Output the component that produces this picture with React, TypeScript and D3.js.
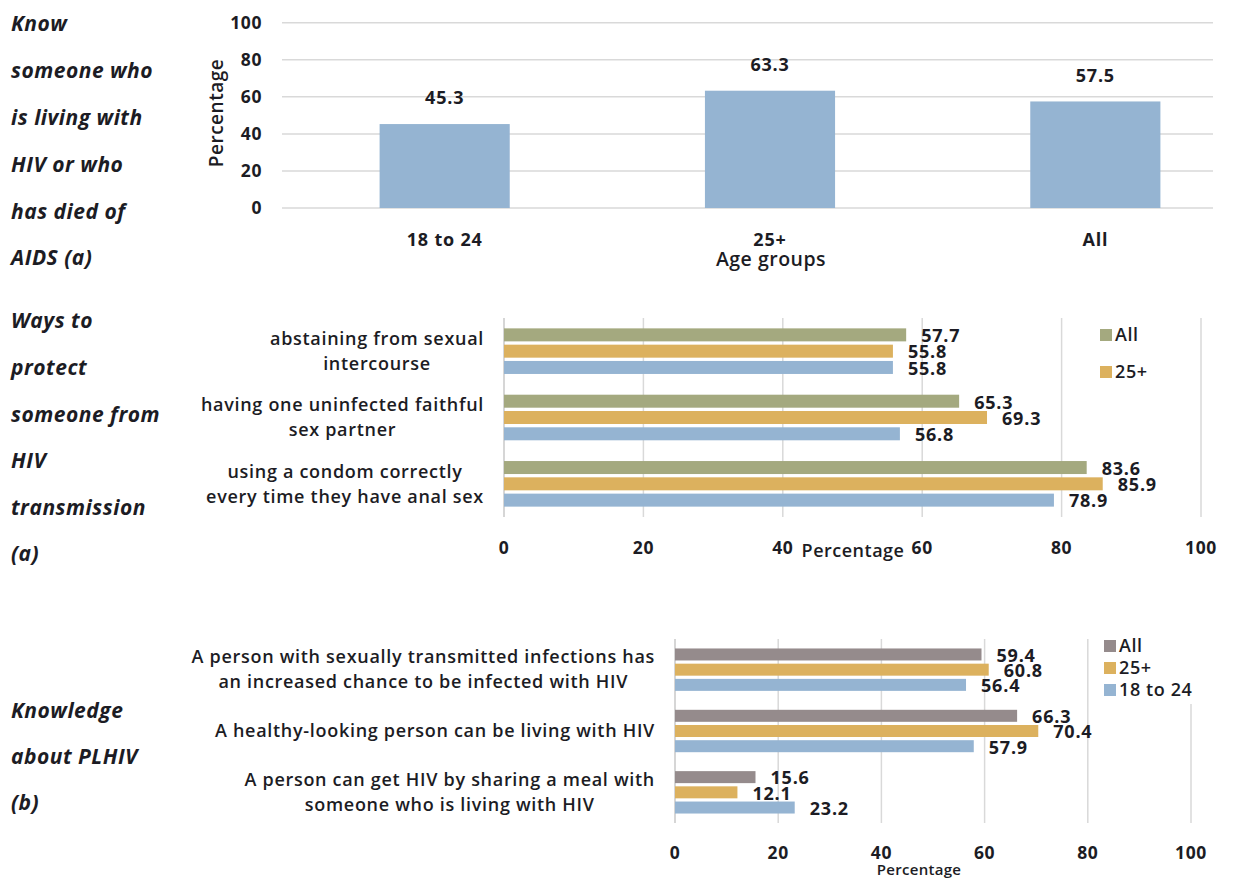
import React, { useEffect, useRef } from "react";
import * as d3 from "d3";

// ---------- DATA ----------
const AGE_GROUPS = ["18 to 24", "25+", "All"];
const KNOW_VALUES = [45.3, 63.3, 57.5];
const PCT_TICKS = [0, 20, 40, 60, 80, 100];

const SERIES = ["All", "25+", "18 to 24"];

const PROTECT_CATEGORIES = [
  ["abstaining from sexual", "intercourse"],
  ["having one uninfected faithful", "sex partner"],
  ["using a condom correctly", "every time they have anal sex"],
];
const PROTECT_ALL = [57.7, 65.3, 83.6];
const PROTECT_25 = [55.8, 69.3, 85.9];
const PROTECT_1824 = [55.8, 56.8, 78.9];
const PROTECT_LEGEND = ["All", "25+"];

const PLHIV_CATEGORIES = [
  ["A person with sexually transmitted infections has", "an increased chance to be infected with HIV"],
  ["A healthy-looking person can be living with HIV"],
  ["A person can get HIV by sharing a meal with", "someone who is living with HIV"],
];
const PLHIV_ALL = [59.4, 66.3, 15.6];
const PLHIV_25 = [60.8, 70.4, 12.1];
const PLHIV_1824 = [56.4, 57.9, 23.2];
const PLHIV_LEGEND = ["All", "25+", "18 to 24"];

const SECTION_KNOW = ["Know", "someone who", "is living with", "HIV or who", "has died of", "AIDS (a)"];
const SECTION_PROTECT = ["Ways to", "protect", "someone from", "HIV", "transmission", "(a)"];
const SECTION_PLHIV = ["Knowledge", "about PLHIV", "(b)"];

// ---------- STYLE ----------
const FONT = "'Open Sans', Lato, sans-serif";
const TEXT = "#1c1c24";
const GRID = "#d9d9d9";
const BLUE = "#95b4d2";
const ORANGE = "#dcb15e";
const GREEN = "#a4a97f";
const GRAY = "#958b8c";

export default function App() {
  const ref = useRef<SVGSVGElement | null>(null);

  useEffect(() => {
    const svg = d3.select(ref.current);
    svg.selectAll("*").remove();

    const style = (sel: any, size: number, weight: number, spacing: number) =>
      sel
        .attr("font-family", FONT)
        .attr("font-size", size)
        .attr("font-weight", weight)
        .attr("letter-spacing", spacing)
        .attr("fill", TEXT);

    // ---------- section labels ----------
    const sections: [string[], number, number][] = [
      [SECTION_KNOW, 24, 46.8],
      [SECTION_PROTECT, 321, 46.6],
      [SECTION_PLHIV, 711, 46],
    ];
    sections.forEach(([lines, y0, step]) => {
      const t = svg
        .append("g")
        .selectAll("text")
        .data(lines)
        .join("text")
        .attr("x", 11)
        .attr("y", (_, i) => y0 + i * step)
        .attr("dy", "0.35em")
        .attr("font-style", "italic")
        .text((d) => d);
      style(t, 21, 700, 0.5);
    });

    // ---------- top vertical bar chart ----------
    const top = svg.append("g");
    const y = d3.scaleLinear().domain([0, 100]).range([208, 22.7]);
    const x = d3
      .scaleBand<string>()
      .domain(AGE_GROUPS)
      .range([282, 1258])
      .paddingInner(0.6)
      .paddingOuter(0.3);

    top
      .selectAll("line.grid")
      .data(PCT_TICKS)
      .join("line")
      .attr("x1", 282)
      .attr("x2", 1213)
      .attr("y1", (d) => y(d))
      .attr("y2", (d) => y(d))
      .attr("stroke", GRID)
      .attr("stroke-width", 1.5);

    style(
      top
        .selectAll("text.tick")
        .data(PCT_TICKS)
        .join("text")
        .attr("x", 262)
        .attr("y", (d) => y(d))
        .attr("dy", "0.35em")
        .attr("text-anchor", "end")
        .text((d) => d),
      17.5,
      700,
      0.6
    );

    style(
      top
        .append("text")
        .attr("transform", `translate(216,113) rotate(-90)`)
        .attr("text-anchor", "middle")
        .attr("dy", "0.35em")
        .text("Percentage"),
      19,
      600,
      0.5
    );

    top
      .selectAll("rect")
      .data(KNOW_VALUES)
      .join("rect")
      .attr("x", (_, i) => x(AGE_GROUPS[i])!)
      .attr("width", x.bandwidth())
      .attr("y", (d) => y(d))
      .attr("height", (d) => y(0) - y(d))
      .attr("fill", BLUE);

    style(
      top
        .selectAll("text.val")
        .data(KNOW_VALUES)
        .join("text")
        .attr("x", (_, i) => x(AGE_GROUPS[i])! + x.bandwidth() / 2)
        .attr("y", (d) => y(d) - 26)
        .attr("dy", "0.35em")
        .attr("text-anchor", "middle")
        .text((d) => d.toFixed(1)),
      18,
      700,
      0.8
    );

    style(
      top
        .selectAll("text.cat")
        .data(AGE_GROUPS)
        .join("text")
        .attr("x", (d) => x(d)! + x.bandwidth() / 2)
        .attr("y", 240)
        .attr("dy", "0.35em")
        .attr("text-anchor", "middle")
        .text((d) => d),
      18,
      700,
      0.8
    );

    style(
      top
        .append("text")
        .attr("x", 771)
        .attr("y", 259)
        .attr("dy", "0.35em")
        .attr("text-anchor", "middle")
        .text("Age groups"),
      19.5,
      600,
      0.5
    );

    // ---------- horizontal grouped bar chart helper ----------
    function hbar(opts: {
      cats: string[][];
      values: number[][];
      colors: string[];
      x0: number;
      x1: number;
      y0: number;
      y1: number;
      barH: number;
      barStep: number;
      labelRight: number;
      lineH: number;
      tickY: number;
      titleX: number;
      titleY: number;
      titleSize: number;
      titleSpacing: number;
      legend: string[];
      legendX: number;
      legendY: number;
      legendStep: number;
      legendColors: string[];
      legendBg: boolean;
    }) {
      const g = svg.append("g");
      const xs = d3.scaleLinear().domain([0, 100]).range([opts.x0, opts.x1]);
      const idx = opts.cats.map((_, i) => String(i));
      const ys = d3.scaleBand<string>().domain(idx).range([opts.y0, opts.y1]);

      g.selectAll("line.grid")
        .data(PCT_TICKS)
        .join("line")
        .attr("x1", (d) => xs(d))
        .attr("x2", (d) => xs(d))
        .attr("y1", opts.y0)
        .attr("y2", opts.y1)
        .attr("stroke", (d) => (d === 0 ? "#c8c8c8" : GRID))
        .attr("stroke-width", 1.5);

      style(
        g
          .selectAll("text.tick")
          .data(PCT_TICKS)
          .join("text")
          .attr("x", (d) => xs(d))
          .attr("y", opts.tickY)
          .attr("dy", "0.35em")
          .attr("text-anchor", "middle")
          .text((d) => d),
        17.5,
        700,
        0.6
      );

      style(
        g
          .append("text")
          .attr("x", opts.titleX)
          .attr("y", opts.titleY)
          .attr("dy", "0.35em")
          .attr("text-anchor", "middle")
          .text("Percentage"),
        opts.titleSize,
        600,
        opts.titleSpacing
      );

      const n = opts.values.length;
      opts.cats.forEach((lines, ci) => {
        const c = ys(String(ci))! + ys.bandwidth() / 2;
        opts.values.forEach((vals, si) => {
          const by = c - (n * opts.barStep - (opts.barStep - opts.barH)) / 2 + si * opts.barStep;
          g.append("rect")
            .attr("x", xs(0))
            .attr("y", by)
            .attr("width", xs(vals[ci]) - xs(0))
            .attr("height", opts.barH)
            .attr("fill", opts.colors[si]);
          style(
            g
              .append("text")
              .attr("x", xs(vals[ci]) + 15)
              .attr("y", by + opts.barH / 2 + 1)
              .attr("dy", "0.35em")
              .text(vals[ci].toFixed(1)),
            18,
            700,
            0.8
          );
        });
        // category label (lines centred in a right-aligned block)
        const tg = g.append("g");
        const texts = lines.map((l, li) =>
          style(
            tg
              .append("text")
              .attr("y", c + (li - (lines.length - 1) / 2) * opts.lineH)
              .attr("dy", "0.35em")
              .attr("text-anchor", "middle")
              .text(l),
            18,
            600,
            0.7
          )
        );
        const widths = texts.map((t: any) => (t.node() as SVGTextElement).getComputedTextLength());
        const maxW = Math.max(...widths);
        texts.forEach((t: any) => t.attr("x", opts.labelRight - maxW / 2));
      });

      // legend
      if (opts.legendBg) {
        g.append("rect")
          .attr("x", opts.legendX - 6)
          .attr("y", opts.legendY - 12)
          .attr("width", 98)
          .attr("height", opts.legend.length * opts.legendStep + 4)
          .attr("fill", "#fff");
      }
      opts.legend.forEach((lab, i) => {
        const ly = opts.legendY + i * opts.legendStep;
        g.append("rect")
          .attr("x", opts.legendX)
          .attr("y", ly - 6)
          .attr("width", 12)
          .attr("height", 12)
          .attr("fill", opts.legendColors[i]);
        style(
          g
            .append("text")
            .attr("x", opts.legendX + 15)
            .attr("y", ly)
            .attr("dy", "0.35em")
            .text(lab),
          18,
          600,
          0.6
        );
      });
    }

    hbar({
      cats: PROTECT_CATEGORIES,
      values: [PROTECT_ALL, PROTECT_25, PROTECT_1824],
      colors: [GREEN, ORANGE, BLUE],
      x0: 504,
      x1: 1201,
      y0: 318,
      y1: 517,
      barH: 13,
      barStep: 16.3,
      labelRight: 484,
      lineH: 25,
      tickY: 548,
      titleX: 853,
      titleY: 551,
      titleSize: 18,
      titleSpacing: 0.5,
      legend: PROTECT_LEGEND,
      legendX: 1100,
      legendY: 335,
      legendStep: 37,
      legendColors: [GREEN, ORANGE],
      legendBg: false,
    });

    hbar({
      cats: PLHIV_CATEGORIES,
      values: [PLHIV_ALL, PLHIV_25, PLHIV_1824],
      colors: [GRAY, ORANGE, BLUE],
      x0: 675,
      x1: 1191,
      y0: 639,
      y1: 823,
      barH: 12,
      barStep: 15.2,
      labelRight: 655,
      lineH: 25,
      tickY: 853,
      titleX: 919,
      titleY: 870,
      titleSize: 15,
      titleSpacing: 0.3,
      legend: PLHIV_LEGEND,
      legendX: 1104,
      legendY: 646,
      legendStep: 22,
      legendColors: [GRAY, ORANGE, BLUE],
      legendBg: true,
    });
  }, []);

  return (
    <svg
      ref={ref}
      width={1233}
      height={880}
      style={{ position: "absolute", left: 0, top: 0, background: "#fff" }}
    />
  );
}
